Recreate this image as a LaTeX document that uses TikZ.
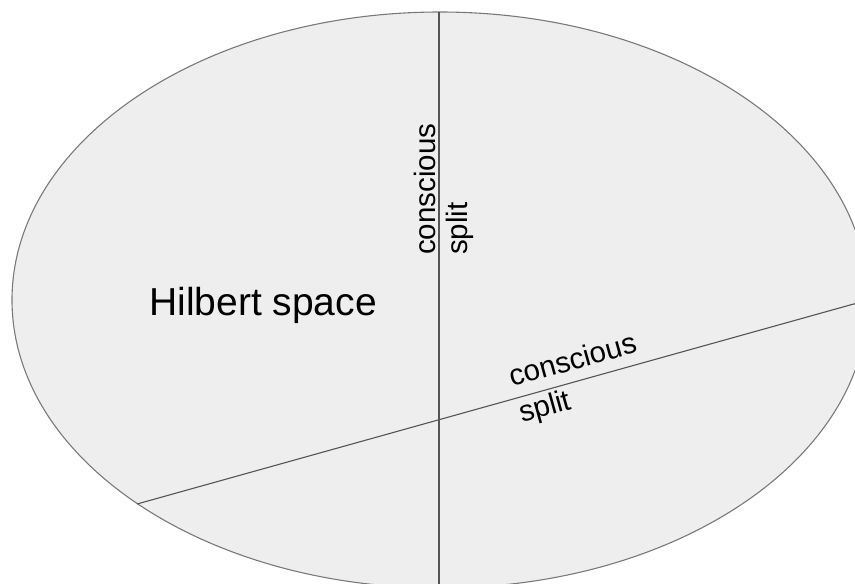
\documentclass[tikz,border=0pt]{standalone}
\usepackage{fontspec}
\setmainfont{Liberation Sans}
\usepackage{tikz}
\usetikzlibrary{calc}

\definecolor{spacefill}{HTML}{EEEEEE}
\definecolor{spaceedge}{HTML}{7A7A7A}
\definecolor{splitline}{HTML}{555555}

\begin{document}
\begin{tikzpicture}[
    x=1pt, y=-1pt,
    % Base styles for shapes and text
    space/.style={draw=spaceedge, fill=spacefill, line width=1.1pt},
    cut/.style={draw=splitline, line width=1.1pt},
    bigtext/.style={font=\fontsize{39}{44}\selectfont, inner sep=0pt},
    cuttext/.style={font=\fontsize{29.5}{34}\selectfont, inner sep=0pt, anchor=base west}
]
\useasboundingbox (0,0) rectangle (855,584);

% --- Hilbert space ---
\path[space] (440,300) ellipse [x radius=428, y radius=288];

% --- Coordinates ---
\coordinate (vtop) at (439,12);
\coordinate (vbot) at (439,600);
\coordinate (sleft) at (137,504);
\coordinate (sright) at (868,300);

% --- Splits ---
\draw[cut] (vtop) -- (vbot);
\draw[cut] (sleft) -- (sright);

% --- Labels ---
\node[bigtext, anchor=base west] (hilbert) at (149,315) {Hilbert space};

\node[cuttext, rotate=90] (vsplitA) at (435,255) {conscious};
\node[cuttext, rotate=90] (vsplitB) at (467,255) {split};

\node[cuttext, rotate=15.56] (ssplitA) at (512,387) {conscious};
\node[cuttext, rotate=15.56] (ssplitB) at (522,423) {split};

\end{tikzpicture}
\end{document}
